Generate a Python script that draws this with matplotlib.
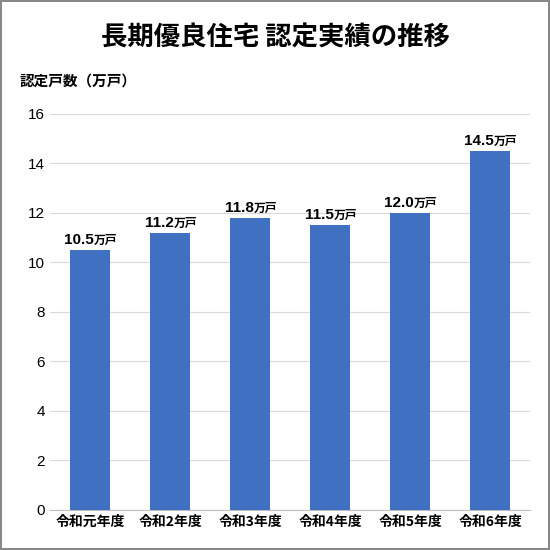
import matplotlib
matplotlib.use("Agg")
import matplotlib.pyplot as plt

plt.rcParams['font.family'] = ['Noto Sans CJK JP', 'DejaVu Sans']

categories = ["令和元年度", "令和2年度", "令和3年度", "令和4年度", "令和5年度", "令和6年度"]
values = [10.5, 11.2, 11.8, 11.5, 12.0, 14.5]
labels = ["10.5", "11.2", "11.8", "11.5", "12.0", "14.5"]

fig = plt.figure(figsize=(5.5, 5.5), dpi=100)
fig.patch.set_edgecolor("#888888")
fig.patch.set_linewidth(1.5)
ax = fig.add_axes([0.091, 0.073, 0.873, 0.72])
x = range(len(categories))
ax.bar(x, values, width=0.5, color="#3F70C2", zorder=3)
for i, (v, l) in enumerate(zip(values, labels)):
    ax.text(i + 0.05, v + 0.12, l, ha="right", va="bottom", fontsize=11, fontweight="bold", family=["Liberation Sans"])
    ax.text(i + 0.05, v + 0.12, "万戸", ha="left", va="bottom", fontsize=8.5, fontweight="bold")
ax.set_ylim(0, 16)
ax.set_xlim(-0.5, 5.5)
ax.set_yticks(range(0, 17, 2))
ax.set_xticks(list(x))
ax.set_xticklabels(categories, fontsize=10, fontweight="bold")
ax.tick_params(axis="y", labelsize=11, length=0)
for t in ax.get_yticklabels():
    t.set_family(["Liberation Sans"])
ax.tick_params(axis="x", length=0)
ax.grid(axis="y", color="#d9d9d9", linewidth=0.8, zorder=0)
for s in ["top", "right", "left"]:
    ax.spines[s].set_visible(False)
ax.spines["bottom"].set_color("#bfbfbf")
fig.text(0.5, 0.93, "長期優良住宅 認定実績の推移", ha="center", va="center", fontsize=19, fontweight="bold")
fig.text(0.035, 0.853, "認定戸数（万戸）", ha="left", va="center", fontsize=10.5, fontweight="bold")
fig.savefig("out.png", dpi=100, edgecolor=fig.get_edgecolor())
